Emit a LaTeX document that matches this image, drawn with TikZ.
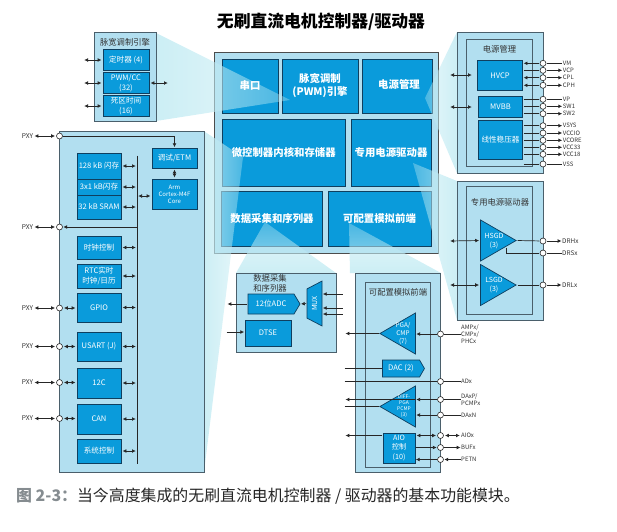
\documentclass[tikz,border=0pt]{standalone}
\usepackage{fontspec}
\setmainfont{Noto Sans CJK SC}
\usetikzlibrary{arrows.meta,fadings,shapes.geometric,shapes.symbols}
\definecolor{chipblue}{HTML}{0A9BDB}
\definecolor{chipline}{HTML}{0F3F5F}
\definecolor{panelblue}{HTML}{B2DFF0}
\definecolor{panelline}{HTML}{4A5F6B}
\definecolor{conecyan}{HTML}{BFEAF2}
\definecolor{capgray}{HTML}{858C90}
\tikzfading[name=conefade,left color=transparent!20,right color=transparent!65]
\begin{document}
\begin{tikzpicture}[x=1pt,y=-1pt,
  >={Latex[length=3.8pt,width=3.8pt]},
  main node/.style={draw=chipline,fill=chipblue,line width=.8pt,inner sep=0},
  main text/.style={text=white,font=\fontsize{10.4}{13}\selectfont\bfseries,align=center,inner sep=0},
  chip node/.style={draw=chipline,fill=chipblue,line width=.7pt,inner sep=0,text=white,align=center,font=\fontsize{7.6}{10}\selectfont},
  chip text/.style={text=white,align=center,inner sep=0,font=\fontsize{6.4}{7.6}\selectfont},
  panel node/.style={draw=panelline,fill=panelblue,line width=.8pt,inner sep=0},
  title node/.style={text=black!80,font=\fontsize{8.3}{10}\selectfont,align=center,inner sep=0},
  pin node/.style={circle,draw=black!85,fill=white,line width=.6pt,inner sep=0,minimum size=6pt},
  pin label/.style={anchor=west,inner sep=0,align=left,text=black!80,font=\fontsize{6}{7}\selectfont},
  amp node/.style={isosceles triangle,isosceles triangle stretches,draw=chipline,fill=chipblue,line width=.7pt,inner sep=0,minimum width=41,minimum height=35.5},
  wire/.style={line width=.7pt,black!85,shorten >=.5pt,shorten <=.5pt},
  wire in/.style={<-},
  wire out/.style={->},
  wire both/.style={<->,shorten >=1.2pt,shorten <=1.2pt},
  wire plain/.style={-},
  cone/.style={fill=conecyan,path fading=conefade}]

  \useasboundingbox (0,0) rectangle (617,531);

  \node[font=\fontsize{16.8}{20}\selectfont\bfseries,inner sep=0] (title) at (321,22) {无刷直流电机控制器/驱动器};
  \node[anchor=west,inner sep=0,text=black!85,font=\fontsize{15.9}{18}\selectfont] (caption) at (16,496)
    {\textcolor{capgray}{\bfseries 图 2-3：}当今高度集成的无刷直流电机控制器 / 驱动器的基本功能模块。};

  \node[panel node,draw=black!70,line width=1pt,minimum width=224,minimum height=201] (main) at (326,152.5) {};
  \foreach \x/\y/\bw/\bh/\nm in {250/86/56/54/uart,320/86/76/54/pwm,397/86/70/54/power,
    283.75/152.5/123.5/67/mcu,391/152.5/80/67/drv,272/218.5/100.5/55/daq,379.5/218.5/103/55/afe}
    \node[main node,minimum width=\bw,minimum height=\bh] (\nm) at (\x,\y) {};

  \fill[cone] (156,33) -- (290,100) -- (156,121) -- cycle;
  \fill[cone] (204,131) -- (243,157) -- (204,472) -- cycle;
  \fill[cone,fading angle=90] (236,273) -- (265,222) -- (336,273) -- cycle;
  \fill[cone,fading angle=90] (350,273) -- (349,223) -- (441,273) -- cycle;
  \fill[cone,fading angle=180] (457,32) -- (425,98) -- (457,173) -- cycle;
  \fill[cone,fading angle=180] (457,181) -- (413,163) -- (457,320) -- cycle;

  \node[main text] (uarttxt) at (uart) {串口};
  \node[main text] (pwmtxt) at (320,86) {脉宽调制\\(PWM)引擎};
  \node[main text] (powertxt) at (399,85) {电源管理};
  \node[main text] (mcutxt) at (mcu) {微控制器内核和存储器};
  \node[main text] (drvtxt) at (391,153) {专用电源驱动器};
  \node[main text] (daqtxt) at (daq) {数据采集和序列器};
  \node[main text] (afetxt) at (afe) {可配置模拟前端};

  \node[panel node,minimum width=62,minimum height=89] (pwmpanel) at (125,76.5) {};
  \node[title node] (pwmtitle) at (125,42) {脉宽调制引擎};
  \foreach \y/\txt/\nm in {60/定时器 (4)/timer,83/{PWM/CC\\(32)}/pwmcc,106/{死区时间\\(16)}/dead}
  {
    \node[chip node,minimum width=46,minimum height=20.5] (\nm) at (126,\y) {\txt};
    \coordinate (\nm in) at (83,\y);
    \draw[wire,wire both] (\nm in) -- (\nm.west);
  }
  \coordinate (pwmccout) at (169,83);
  \draw[wire,wire both] (pwmcc.east) -- (pwmccout);

  \node[panel node,minimum width=145,minimum height=341] (cpupanel) at (131.5,301.5) {};
  \coordinate (bustop) at (137,155);
  \coordinate (busbot) at (137,464);
  \draw[wire] (bustop) -- (busbot);
  \foreach \y/\bh/\txt/\nm in {166/26/128 kB 闪存/flasha,187/16/3x1 kB闪存/flashb,207/24/32 kB SRAM/sram,
    247.5/23/时钟控制/clock,276/24/{RTC实时\\时钟/日历}/rtc,307.5/29/GPIO/gpio,346.5/29/USART (J)/usart,
    383/30/12C/itc,419/30/CAN/can,451/24/系统控制/sysctl}
  {
    \node[chip node,minimum width=44,minimum height=\bh] (\nm) at (99,\y) {\txt};
    \draw[wire,wire both] (\nm.east) -- (\nm.east -| bustop);
  }
  \node[chip node,minimum width=45,minimum height=20] (debug) at (174.5,158) {调试/ETM};
  \node[chip node,minimum width=45,minimum height=30,font=\fontsize{6}{7}\selectfont] (arm) at (174.5,194) {Arm\\Cortex-M4F\\Core};
  \draw[wire,wire both] (debug.south) -- (arm.north);
  \coordinate (busarm) at (137,196);
  \draw[wire,wire both] (busarm) -- (busarm -| arm.west);
  \foreach \y/\nm in {136/pa,227/pb,308/pc,346.5/pd,382.5/pe,418.5/pf}
  {
    \node[pin node] (\nm) at (59.5,\y) {};
    \node[inner sep=0,text=black!80,font=\fontsize{6.6}{8}\selectfont] (\nm txt) at (27.5,\y) {PXY};
    \draw[wire,wire both] (\nm txt.east) -- (\nm);
  }
  \foreach \nm/\chip in {pc/gpio,pd/usart,pe/itc,pf/can}
    \draw[wire,wire both] (\nm) -- (\nm -| \chip.west);
  \draw[wire,->] (pa) -| (debug.north);
  \draw[wire,->] (pb -| bustop) -- (pb);

  \node[panel node,minimum width=100,minimum height=79] (daqpanel) at (286,312.5) {};
  \node[title node] (daqtitle) at (270,283.5) {数据采集\\和序列器};
  \node[chip node,signal,signal to=east,signal pointer angle=118,minimum width=52,minimum height=20] (adc) at (271,304) {12位ADC};
  \node[chip node,minimum width=46,minimum height=26] (dtse) at (268,333) {DTSE};
  \node[chip node,trapezium,trapezium stretches=true,rotate=90,trapezium angle=53,minimum width=45,minimum height=15,font=\fontsize{7}{8}\selectfont] (mux) at (314.5,303.5) {MUX};
  \coordinate (adcout) at (227,304);
  \coordinate (dtsein) at (226,332);
  \draw[wire,->] (adc.west) -- (adcout);
  \draw[wire,->] (dtsein) -- (dtsein -| dtse.west);
  \draw[wire,->] (mux.north) -- (adc.east);
  \foreach \y/\nm in {294/muxa,308/muxb,314/muxc}
  {
    \coordinate (\nm) at (343,\y);
    \draw[wire,->] (\nm) -- (\nm -| mux.south);
  }

  \node[panel node,minimum width=85.5,minimum height=199] (afepanel) at (398,372.5) {};
  \node[panel node,minimum width=65,minimum height=185] (afeinner) at (397.5,374.5) {};
  \node[title node] (afetitle) at (398,292) {可配置模拟前端};
  \node[amp node,shape border rotate=180,anchor=apex] (pga) at (379,333.5) {};
  \node[chip text] (pgatxt) at (403,333.5) {PGA/\\CMP\\(7)};
  \node[chip node,signal,signal to=east,signal pointer angle=120,minimum width=42,minimum height=17] (dac) at (401,368.5) {DAC (2)};
  \node[amp node,shape border rotate=180,anchor=apex] (diff) at (379,406.5) {};
  \node[chip text,font=\fontsize{5}{6}\selectfont] (difftxt) at (404,406.5) {DIFF-\\PGA\\PCMP\\(3)};
  \node[chip node,minimum width=32,minimum height=30,font=\fontsize{7.2}{9.5}\selectfont] (aiobox) at (399,448) {AIO\\控制\\(10)};
  \foreach \y/\txt/\nm in {334/{AMPx/\\CMPx/\\PHCx}/ampx,381.5/ADx/adx,399.5/{DAxP/\\PCMPx}/daxp,415/DAxN/daxn,
    435.5/AIOx/aiox,447.5/BUFx/bufx,459.5/PETN/petn}
  {
    \node[pin node] (\nm) at (440.5,\y) {};
    \node[pin label] (\nm txt) at (461,\y) {\txt};
  }
  \foreach \nm in {ampx,adx,daxp,daxn}
    \draw[wire] (\nm) -- (\nm txt.west);
  \draw[wire,wire both] (aiox) -- (aioxtxt.west);
  \draw[wire,->] (bufx) -- (bufxtxt.west);
  \draw[wire,->] (petntxt.west) -- (petn);
  \coordinate (pgaout) at (345,333.5);
  \coordinate (dacin) at (344,368.5);
  \coordinate (adxin) at (344,381.5);
  \coordinate (diffout) at (345,399.5);
  \coordinate (diffin) at (344,406.5);
  \coordinate (aioout) at (345,435.5);
  \draw[wire,->] (pga.apex) -- (pgaout);
  \draw[wire] (dacin) -- (dac.west);
  \draw[wire] (adxin) -- (adx);
  \draw[wire,->] (diffout -| diff.lower side) -- (diffout);
  \draw[wire] (diffin) -- (diff.apex);
  \draw[wire,->] (aiobox.west |- aiox) -- (aioout);
  \draw[wire,->] (ampx) -- (ampx -| pga.lower side);
  \draw[wire,->] (daxp) -- (daxp -| diff.lower side);
  \draw[wire,->] (daxn) -- (daxn -| diff.lower side);
  \draw[wire,wire both] (aiobox.east |- aiox) -- (aiox);
  \draw[wire,->] (aiobox.east |- bufx) -- (bufx);
  \draw[wire,->] (petn) -- (aiobox.east |- petn);

  \node[panel node,minimum width=86,minimum height=141] (powerpanel) at (500,102.5) {};
  \node[panel node,minimum width=66,minimum height=126.7] (powerinner) at (499.3,102.6) {};
  \node[title node] (powertitle) at (499.5,49) {电源管理};
  \node[chip node,minimum width=45.5,minimum height=29.6] (hvcp) at (500,75.5) {HVCP};
  \node[chip node,minimum width=44.5,minimum height=20.6] (mvbb) at (500.5,107) {MVBB};
  \node[chip node,minimum width=44.5,minimum height=38.3] (ldo) at (500.5,139.8) {线性稳压器};
  \foreach \y/\txt/\nm/\chip/\tipl/\tipr in {63.3/VM/vm/hvcp/wire in/wire plain,70.3/VCP/vcp/hvcp/wire plain/wire out,
    77.7/CPL/cpl/hvcp/wire in/wire out,85.3/CPH/cph/hvcp/wire in/wire out,99.3/VP/vp/mvbb/wire plain/wire plain,
    106.3/SW1/swa/mvbb/wire plain/wire out,113.7/SW2/swb/mvbb/wire plain/wire out,125.7/VSYS/vsys/ldo/wire plain/wire out,
    133/VCCIO/vccio/ldo/wire plain/wire out,140.3/VCORE/vcore/ldo/wire plain/wire out,147.3/VCC33/vcca/ldo/wire plain/wire out,
    154.3/VCC18/vccb/ldo/wire plain/wire out,164/VSS/vss/ldo/wire plain/wire plain}
  {
    \node[pin node] (\nm) at (543,\y) {};
    \node[pin label] (\nm txt) at (562.7,\y) {\txt};
    \draw[wire,\tipl] (\chip.east |- \nm) -- (\nm);
    \draw[wire,\tipr] (\nm) -- (\nm txt.west);
  }
  \foreach \y/\nm in {75/hvcpbus,107/mvbbbus}
  {
    \coordinate (\nm a) at (449,\y);
    \coordinate (\nm b) at (473,\y);
    \draw[wire,wire both] (\nm a) -- (\nm b);
  }

  \node[panel node,minimum width=86,minimum height=139] (drvpanel) at (500,250.5) {};
  \node[panel node,minimum width=66,minimum height=128] (drvinner) at (499,250) {};
  \node[title node] (drvtitle) at (500,202) {专用电源驱动器};
  \node[amp node,anchor=apex] (hsgd) at (517,240.5) {};
  \node[chip text,font=\fontsize{7}{9}\selectfont] (hsgdtxt) at (494,241) {HSGD\\(3)};
  \node[amp node,anchor=apex] (lsgd) at (517,285) {};
  \node[chip text,font=\fontsize{7}{9}\selectfont] (lsgdtxt) at (494,285) {LSGD\\(3)};
  \foreach \y/\txt/\nm in {241/DRHx/drhx,253/DRSx/drsx,285/DRLx/drlx}
  {
    \node[pin node] (\nm) at (543,\y) {};
    \node[pin label,font=\fontsize{6.4}{8}\selectfont] (\nm txt) at (562,\y) {\txt};
  }
  \draw[wire] (hsgd.apex) -- (drhx);
  \draw[wire,->] (drhx) -- (drhxtxt.west);
  \draw[wire] (lsgd.apex) -- (drlx);
  \draw[wire,->] (drlx) -- (drlxtxt.west);
  \draw[wire] (drsx) -- (drsxtxt.west);
  \coordinate (hsgdtap) at (506.5,247);
  \draw[wire] (hsgdtap) |- (drsx);
  \foreach \y/\nm in {241/hsgd,285/lsgd}
  {
    \coordinate (\nm bus) at (449,\y);
    \draw[wire,wire both] (\nm bus) -- (\nm.lower side);
  }
\end{tikzpicture}
\end{document}
